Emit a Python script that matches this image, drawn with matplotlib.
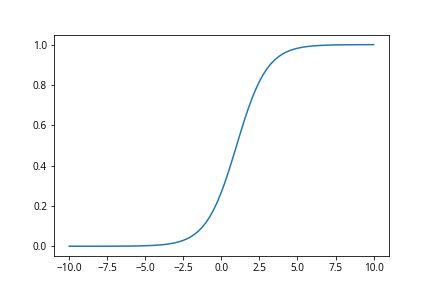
import matplotlib
matplotlib.use("Agg")
import matplotlib.pyplot as plt

plt.rcParams['font.family'] = ['Open Sans', 'DejaVu Sans']
plt.rcParams['axes.unicode_minus'] = True

x_values = [-10.0, -9.5, -9.0, -8.5, -8.0, -7.5, -7.0, -6.5, -6.0, -5.5, -5.0,
            -4.5, -4.0, -3.75, -3.5, -3.25, -3.0, -2.75, -2.5, -2.25, -2.0, -1.75,
            -1.5, -1.25, -1.0, -0.75, -0.5, -0.25, 0.0, 0.25, 0.5, 0.75, 1.0,
            1.25, 1.5, 1.75, 2.0, 2.25, 2.5, 2.75, 3.0, 3.25, 3.5, 3.75, 4.0,
            4.25, 4.5, 4.75, 5.0, 5.25, 5.5, 5.75, 6.0, 6.5, 7.0, 7.5, 8.0,
            8.5, 9.0, 9.5, 10.0]
y_values = [0.0000, 0.0000, 0.0000, 0.0001, 0.0001, 0.0002, 0.0003, 0.0006, 0.0009, 0.0015, 0.0025,
            0.0041, 0.0067, 0.0086, 0.0110, 0.0141, 0.0180, 0.0230, 0.0293, 0.0373, 0.0474, 0.0601,
            0.0759, 0.0953, 0.1192, 0.1480, 0.1824, 0.2227, 0.2689, 0.3208, 0.3775, 0.4378, 0.5000,
            0.5622, 0.6225, 0.6792, 0.7311, 0.7773, 0.8176, 0.8520, 0.8808, 0.9047, 0.9241, 0.9399, 0.9526,
            0.9627, 0.9707, 0.9770, 0.9820, 0.9859, 0.9890, 0.9914, 0.9933, 0.9959, 0.9975, 0.9985, 0.9991,
            0.9994, 0.9997, 0.9998, 0.9999]

fig, ax = plt.subplots(figsize=(6, 4), dpi=72)
ax.plot(x_values, y_values, color='#1f77b4', linewidth=1.5)
fig.savefig("out.png", dpi=72)
